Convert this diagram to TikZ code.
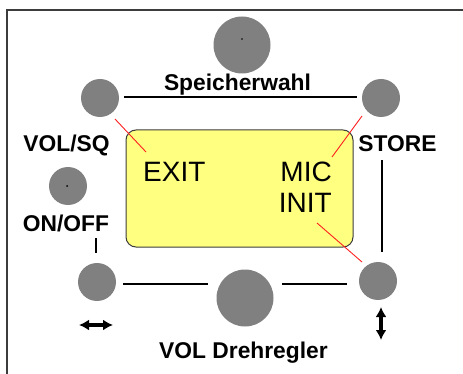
\documentclass[tikz,border=0pt]{standalone}
\usepackage{fontspec}
\setmainfont{Liberation Sans}
\usetikzlibrary{arrows.meta,calc}
\definecolor{knobgray}{HTML}{808080}
\definecolor{lcdyellow}{HTML}{FFFF80}
\definecolor{framegray}{HTML}{3C3C3C}
\definecolor{redline}{HTML}{FF2020}
\tikzset{
  knob/.style={circle, fill=knobgray, draw=none, inner sep=0pt, minimum size=38pt},
  bigknob/.style={knob, minimum size=57pt},
  lbl/.style={font=\fontsize{22.8}{24}\selectfont\bfseries, inner sep=0pt, anchor=base},
  lcdtxt/.style={font=\fontsize{28}{30}\selectfont, inner sep=0pt},
  wire/.style={black, line width=1.3pt},
  pointer/.style={redline, line width=0.9pt},
  dblarrow/.style={black, line width=3.2pt, {Latex[length=10pt,width=11pt]}-{Latex[length=10pt,width=11pt]}},
  dot/.style={circle, fill=black, inner sep=0pt, minimum size=1.6pt}
}
\begin{document}
\begin{tikzpicture}[x=1pt,y=-1pt]
\useasboundingbox (0,0) rectangle (463,374);
\fill[white] (0,0) rectangle (463,374);
% frame
\draw[framegray, line width=2pt] (7,374) -- (7,10) -- (463,10);
% LCD
\node[draw=framegray, line width=1pt, fill=lcdyellow, rounded corners=10pt,
      minimum width=227pt, minimum height=117pt, inner sep=0pt] (lcd) at (239.5,188.5) {};
\node[lcdtxt, anchor=base west] (exit) at (143,182) {EXIT};
\node[lcdtxt, anchor=base east] (mic) at (332,182) {MIC};
\node[lcdtxt, anchor=base east] (init) at (332,213) {INIT};
% knobs
\node[bigknob] (speicher) at (242,45) {};
\node[knob] (tl) at (100,98) {};
\node[knob] (tr) at (381,98) {};
\node[knob] (onoffknob) at (68,186) {};
\node[knob] (bl) at (97,282) {};
\node[bigknob] (bm) at (245,298) {};
\node[knob] (br) at (378,281) {};
\node[dot] (d1) at (242,39) {};
\node[dot, minimum size=2pt] (d2) at (67,186) {};
% labels
\node[lbl] (speicherlbl) at (237.5,91) {Speicherwahl};
\node[lbl] (volsq) at (66.5,152) {VOL/SQ};
\node[lbl] (onoff) at (66,231) {ON/OFF};
\node[lbl] (store) at (397.5,152) {STORE};
\node[lbl] (vold) at (243.5,358) {VOL Drehregler};
% wires
\coordinate (tw1) at (124,97);
\coordinate (tw2) at (357,97);
\draw[wire] (tw1) -- (tw2);
\coordinate (rw1) at (382,160);
\coordinate (rw2) at (382,252);
\draw[wire] (rw1) -- (rw2);
\coordinate (bw1) at (123,284);
\coordinate (bw2) at (208,284);
\coordinate (bw3) at (282,284);
\coordinate (bw4) at (347,284);
\draw[wire] (bw1) -- (bw2);
\draw[wire] (bw3) -- (bw4);
\coordinate (lw1) at (96,238);
\coordinate (lw2) at (96,253);
\draw[wire] (lw1) -- (lw2);
% red pointers
\coordinate (r1a) at (115,119);
\coordinate (r1b) at (146,152);
\draw[pointer] (r1a) -- (r1b);
\coordinate (r2a) at (362,116);
\coordinate (r2b) at (332,157);
\draw[pointer] (r2a) -- (r2b);
\coordinate (r3a) at (317,223);
\coordinate (r3b) at (362,262);
\draw[pointer] (r3a) -- (r3b);
% arrows
\coordinate (ha1) at (79,325);
\coordinate (ha2) at (113,325);
\draw[dblarrow] (ha1) -- (ha2);
\coordinate (va1) at (381,307);
\coordinate (va2) at (381,340);
\draw[dblarrow] (va1) -- (va2);
\end{tikzpicture}
\end{document}
